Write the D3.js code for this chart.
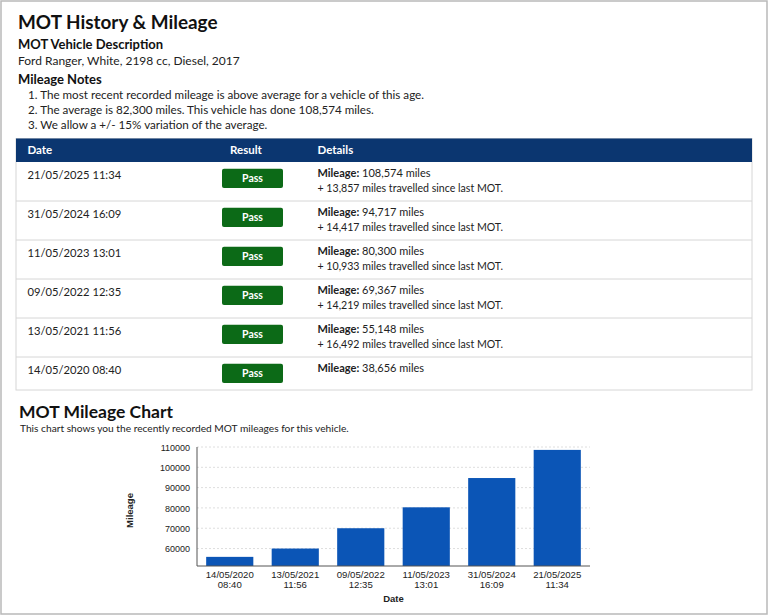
<!DOCTYPE html>
<html>
<head>
<meta charset="utf-8">
<script src="https://cdn.jsdelivr.net/npm/d3@7"></script>
<style>
  html, body { margin: 0; padding: 0; background: #fff; }
  svg text { font-family: Lato, "Noto Sans", sans-serif; }
  .chart text { font-family: "Liberation Sans", Arial, sans-serif; }
</style>
</head>
<body>
<div id="page"></div>
<script>
// Vehicle + notes
const vehicleDescription = "Ford Ranger, White, 2198 cc, Diesel, 2017";
const mileageNotes = [
    "1. The most recent recorded mileage is above average for a vehicle of this age.",
    "2. The average is 82,300 miles. This vehicle has done 108,574 miles.",
    "3. We allow a +/- 15% variation of the average."
];

// MOT history table
const testDates = ["21/05/2025 11:34", "31/05/2024 16:09", "11/05/2023 13:01", "09/05/2022 12:35", "13/05/2021 11:56", "14/05/2020 08:40"];
const testResults = ["Pass", "Pass", "Pass", "Pass", "Pass", "Pass"];
const testMileage = ["108,574", "94,717", "80,300", "69,367", "55,148", "38,656"];
const milesSinceLast = ["13,857", "14,417", "10,933", "14,219", "16,492", null];

// Chart
const chartDates = ["14/05/2020 08:40", "13/05/2021 11:56", "09/05/2022 12:35", "11/05/2023 13:01", "31/05/2024 16:09", "21/05/2025 11:34"];
const chartMileage = [55900, 60000, 70000, 80300, 94717, 108574];
const yTicks = [60000, 70000, 80000, 90000, 100000, 110000];

const W = 768, H = 615;
const svg = d3.select("#page").append("svg")
    .attr("width", W).attr("height", H);

// outer frame
svg.append("rect")
    .attr("x", 1).attr("y", 1).attr("width", W - 2).attr("height", H - 2)
    .attr("fill", "#fff").attr("stroke", "#b9b9b9").attr("stroke-width", 1.5);

// headings
svg.append("text").attr("x", 18).attr("y", 28.5)
    .attr("font-size", 18.9).attr("font-weight", 700).attr("fill", "#111")
    .text("MOT History & Mileage");
svg.append("text").attr("x", 18).attr("y", 48.5)
    .attr("font-size", 13).attr("font-weight", 700).attr("fill", "#111")
    .text("MOT Vehicle Description");
svg.append("text").attr("x", 18).attr("y", 64.5)
    .attr("font-size", 12).attr("fill", "#222")
    .text(vehicleDescription);
svg.append("text").attr("x", 18).attr("y", 83.5)
    .attr("font-size", 13).attr("font-weight", 700).attr("fill", "#111")
    .text("Mileage Notes");
svg.selectAll(".note").data(mileageNotes).join("text")
    .attr("class", "note")
    .attr("x", 28).attr("y", (d, i) => 98.5 + i * 15)
    .attr("font-size", 11.65).attr("fill", "#222")
    .text(d => d);

// ---- table ----
const tLeft = 16, tRight = 752, headTop = 138.5, headH = 23.5;
const rows = testDates.map((d, i) => ({
    date: d, result: testResults[i], mileage: testMileage[i], since: milesSinceLast[i]
}));
let yy = headTop + headH;
rows.forEach(r => { r.top = yy; r.h = r.since ? 39 : 33; yy += r.h; });
const tBottom = yy;

svg.append("rect")
    .attr("x", tLeft).attr("y", headTop).attr("width", tRight - tLeft).attr("height", tBottom - headTop)
    .attr("fill", "#fff").attr("stroke", "#d6d6d6");
svg.append("rect")
    .attr("x", tLeft).attr("y", headTop).attr("width", tRight - tLeft).attr("height", headH)
    .attr("fill", "#0b3670");

const colX = { date: 27.5, result: 230, details: 317.5 };
[["Date", colX.date], ["Result", colX.result], ["Details", colX.details]].forEach(([t, x]) => {
    svg.append("text").attr("x", x).attr("y", headTop + 15.5)
        .attr("font-size", 11.5).attr("font-weight", 700).attr("fill", "#fff").text(t);
});

const row = svg.selectAll(".row").data(rows).join("g")
    .attr("class", "row")
    .attr("transform", d => `translate(0,${d.top})`);

row.filter((d, i) => i > 0).append("line")
    .attr("x1", tLeft).attr("x2", tRight).attr("y1", 0).attr("y2", 0)
    .attr("stroke", "#d6d6d6");

row.append("text").attr("x", colX.date).attr("y", 16.8)
    .attr("font-size", 11.2).attr("fill", "#222").text(d => d.date);

row.append("rect")
    .attr("x", 222).attr("y", 6.8).attr("width", 61).attr("height", 19.2).attr("rx", 2)
    .attr("fill", "#0c6a17");
row.append("text").attr("x", 252.5).attr("y", 20.2).attr("text-anchor", "middle")
    .attr("font-size", 10.5).attr("font-weight", 700).attr("fill", "#fff").text(d => d.result);

const det = row.append("text").attr("x", colX.details).attr("y", 15.2)
    .attr("font-size", 11).attr("fill", "#222");
det.append("tspan").attr("font-weight", 700).text("Mileage:");
det.append("tspan").text(d => " " + d.mileage + " miles");
row.filter(d => d.since).append("text").attr("x", colX.details).attr("y", 30.2)
    .attr("font-size", 10.6).attr("fill", "#222")
    .text(d => "+ " + d.since + " miles travelled since last MOT.");

// ---- chart ----
svg.append("text").attr("x", 19).attr("y", 417.5)
    .attr("font-size", 17.5).attr("font-weight", 700).attr("fill", "#111")
    .text("MOT Mileage Chart");
svg.append("text").attr("x", 20).attr("y", 431.7)
    .attr("font-size", 10.2).attr("fill", "#222")
    .text("This chart shows you the recently recorded MOT mileages for this vehicle.");

const plot = { left: 197, right: 590, top: 447, bottom: 566 };
const chart = svg.append("g").attr("class", "chart");

const x = d3.scaleBand()
    .domain(chartDates)
    .range([plot.left, plot.right])
    .paddingInner(0.28).paddingOuter(0.14);
const y = d3.scaleLinear()
    .domain([51400, 110000])
    .range([plot.bottom, plot.top]);

// gridlines
chart.selectAll(".grid").data(yTicks).join("line")
    .attr("class", "grid")
    .attr("x1", plot.left).attr("x2", plot.right)
    .attr("y1", d => y(d)).attr("y2", d => y(d))
    .attr("stroke", "#dedede").attr("stroke-dasharray", "2,2");

// bars
chart.selectAll(".bar").data(chartDates).join("rect")
    .attr("class", "bar")
    .attr("x", d => x(d))
    .attr("width", x.bandwidth())
    .attr("y", (d, i) => y(chartMileage[i]))
    .attr("height", (d, i) => plot.bottom - y(chartMileage[i]))
    .attr("fill", "#0b55b6");

// y axis
const yAxis = chart.append("g")
    .attr("transform", `translate(${plot.left},0)`)
    .call(d3.axisLeft(y).tickValues(yTicks).tickSize(0).tickPadding(7).tickFormat(d3.format("d")));
yAxis.select(".domain").attr("stroke", "#555").attr("d", `M0,${plot.top}V${plot.bottom}`);
yAxis.selectAll("text").attr("font-size", 9).attr("fill", "#222").attr("dy", "0.35em")
    .style("font-family", "'Liberation Sans', Arial, sans-serif");

// x axis
const xAxis = chart.append("g")
    .attr("transform", `translate(0,${plot.bottom})`)
    .call(d3.axisBottom(x).tickSize(0).tickPadding(0));
xAxis.select(".domain").attr("stroke", "#555").attr("d", `M${plot.left},0H${plot.right}`);
xAxis.selectAll(".tick text").each(function (d) {
    const parts = d.split(" ");
    const t = d3.select(this).text(null)
        .attr("font-size", 9.6).attr("fill", "#222").attr("y", 0).attr("dy", null)
        .style("font-family", "'Liberation Sans', Arial, sans-serif");
    t.append("tspan").attr("x", 0).attr("y", 11.5).text(parts[0]);
    t.append("tspan").attr("x", 0).attr("y", 22).text(parts[1]);
});

// axis titles
chart.append("text")
    .attr("transform", `translate(133,${(plot.top + plot.bottom) / 2 + 4}) rotate(-90)`)
    .attr("text-anchor", "middle").attr("font-size", 9.5).attr("font-weight", 700).attr("fill", "#222")
    .text("Mileage");
chart.append("text")
    .attr("x", (plot.left + plot.right) / 2).attr("y", 601.5)
    .attr("text-anchor", "middle").attr("font-size", 9.5).attr("font-weight", 700).attr("fill", "#222")
    .text("Date");
</script>
</body>
</html>
